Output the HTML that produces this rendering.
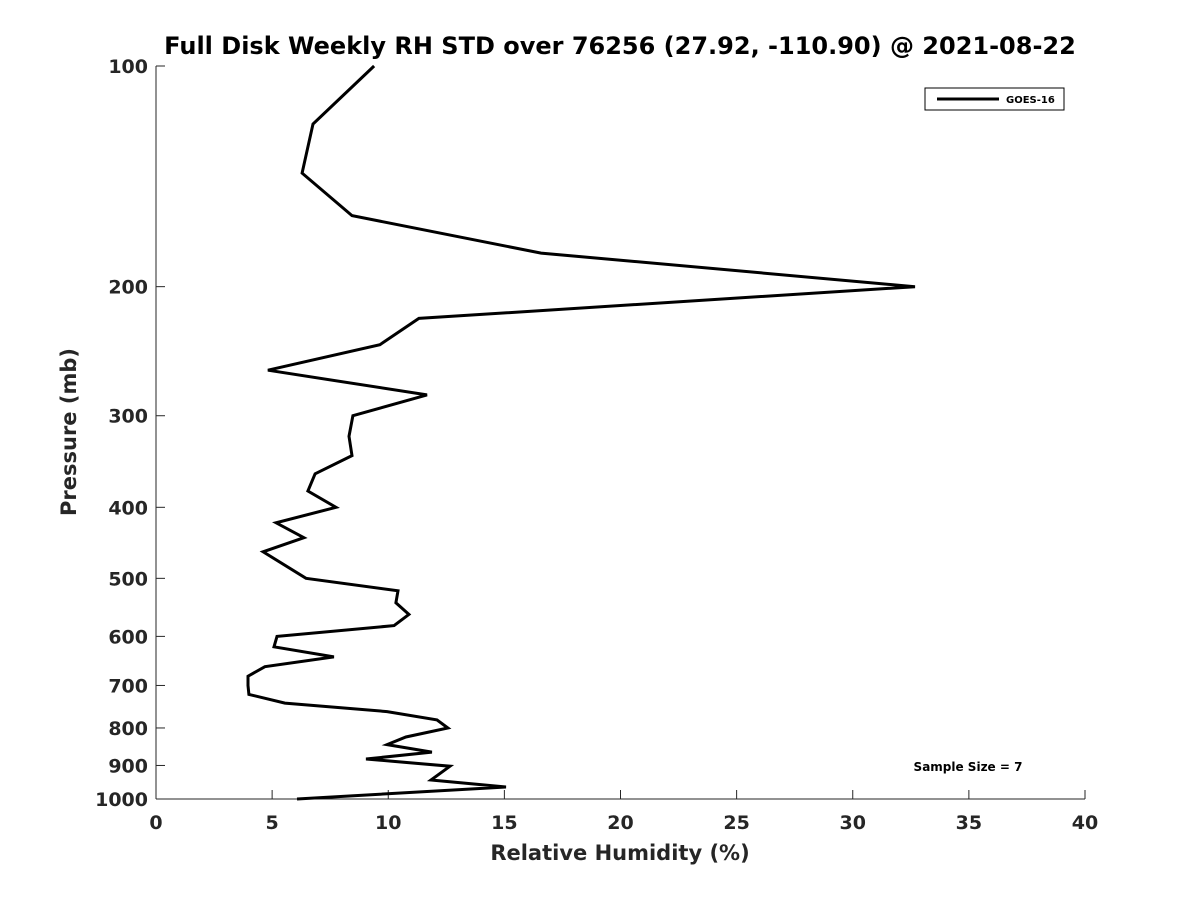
<!DOCTYPE html>
<html><head><meta charset="utf-8"><style>
body{margin:0;background:#fff}
svg text{font-family:"DejaVu Sans","Liberation Sans",sans-serif;font-weight:bold;fill:#262626}
</style></head><body>
<svg id="chart" width="1200" height="900" xmlns="http://www.w3.org/2000/svg">
<rect width="1200" height="900" fill="#fff"/>
<text x="620" y="54" font-size="24" text-anchor="middle" style="fill:#000">Full Disk Weekly RH STD over 76256 (27.92, -110.90) @ 2021-08-22</text>
<g id="axes"></g>
<text x="620" y="860" font-size="21" text-anchor="middle">Relative Humidity (%)</text>
<text transform="translate(76,432) rotate(-90)" font-size="21" text-anchor="middle">Pressure (mb)</text>
<g>
<rect x="925" y="88" width="139" height="22" fill="#fff" stroke="#000" stroke-width="1"/>
<line x1="937" y1="99" x2="999" y2="99" stroke="#000" stroke-width="3"/>
<text x="1006" y="103" font-size="10" style="fill:#000">GOES-16</text>
</g>
<text x="968" y="771" font-size="12" text-anchor="middle" style="fill:#000">Sample Size = 7</text>
</svg>
<script>
const xTicks=[0,5,10,15,20,25,30,35,40];
const yTicks=[100,200,300,400,500,600,700,800,900,1000];
const pressures=[100,120,140,160,180,200,221,240,260,281,300,320,340,360,380,400,420,440,460,500,520,540,560,580,600,620,640,660,680,700,720,740,760,780,800,823,843,863,882,902,942,963,1000];
const rhStd=[9.39,6.76,6.29,8.44,16.58,32.68,11.32,9.64,4.82,11.67,8.48,8.31,8.44,6.85,6.54,7.75,5.17,6.37,4.61,6.46,10.42,10.33,10.89,10.25,5.21,5.08,7.66,4.69,3.96,3.96,4.0,5.55,9.95,12.1,12.57,10.76,9.95,11.88,9.04,12.66,11.84,15.07,6.07];
const L=156,R=1085,T=66,B=799;
const xs=v=>L+(v-0)/40*(R-L);
const ys=p=>T+Math.log10(p/100)*(B-T);
const NS="http://www.w3.org/2000/svg";
const ax=document.getElementById('axes');
function mk(t,a){const e=document.createElementNS(NS,t);for(const k in a)e.setAttribute(k,a[k]);return e;}
let xl=mk('line',{x1:L,y1:B,x2:R,y2:B,stroke:'#262626','stroke-width':1});


ax.appendChild(xl);
let yl=mk('line',{x1:L,y1:T,x2:L,y2:B,stroke:'#262626','stroke-width':1});


ax.appendChild(yl);
xTicks.forEach(v=>{
 ax.appendChild(mk('line',{x1:xs(v),y1:B,x2:xs(v),y2:B-9,stroke:'#262626'}));
 const t=mk('text',{x:xs(v),y:B+30,'font-size':19,'text-anchor':'middle'});
 
 
 t.textContent=v;ax.appendChild(t);
});
yTicks.forEach(p=>{
 ax.appendChild(mk('line',{x1:L,y1:ys(p),x2:L+9,y2:ys(p),stroke:'#262626'}));
 const t=mk('text',{x:L-8,y:ys(p)+7,'font-size':19,'text-anchor':'end'});
 
 
 t.textContent=p;ax.appendChild(t);
});
const pts=pressures.map((p,i)=>xs(rhStd[i]).toFixed(1)+','+ys(p).toFixed(1)).join(' ');
const line=mk('polyline',{points:pts,fill:'none',stroke:'#000','stroke-width':3,'stroke-linejoin':'miter'});


ax.appendChild(line);
</script>
</body></html>
